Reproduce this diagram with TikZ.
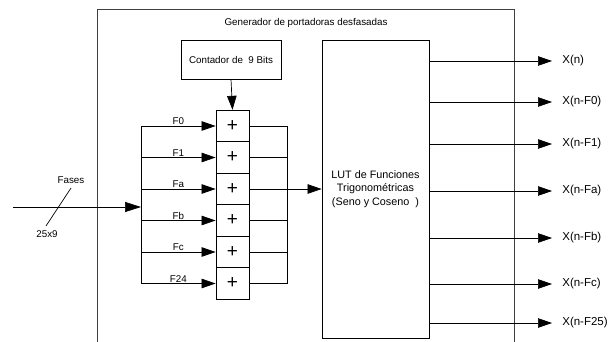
\documentclass[tikz,border=0pt]{standalone}
\usepackage{fontspec}
\setmainfont{Liberation Sans}
\usetikzlibrary{arrows.meta, calc, positioning}

\tikzset{
    txt/.style={font=\fontsize{9.8}{11.5}\selectfont, inner sep=1pt},
    blk/.style={draw, line width=0.8pt, txt, align=center},
    sumbox/.style={draw, line width=0.8pt, minimum width=33pt, minimum height=31.5pt, font=\fontsize{19}{19}\selectfont},
    arr/.style={-{Triangle[length=14pt,width=9.5pt]}},
    outlbl/.style={font=\fontsize{11.5}{13}\selectfont, inner sep=1pt, anchor=west},
}

\begin{document}
\begin{tikzpicture}[x=1pt, y=-1pt, line width=0.7pt]
    \useasboundingbox (0,0) rectangle (611,342);
    % outer block
    \draw[line width=0.8pt, black!75] (97,342) -- (97,9) -- (514,9) -- (514,342);
    \node[txt] (title) at (306,23) {Generador de portadoras desfasadas};

    \node[blk, minimum width=100pt, minimum height=39pt] (cont) at (231,59.5) {Contador de~~9 Bits};

    % adders
    \foreach \i/\lab in {0/F0,1/F1,2/Fa,3/Fb,4/Fc,5/F24} {
        \node[sumbox] (s\i) at (232.5,{126+31.5*\i}) {+};
        \draw[arr] (141,{126+31.5*\i}) -- node[txt, above] {\lab} (s\i.west);
        \draw (s\i.east) -- ++(38,0);
    }
    \draw[arr] (cont.south) -- (s0.north);

    % input bus
    \coordinate (in) at (13,207);
    \coordinate (bus) at (141,207);
    \draw[-{Triangle[length=16pt,width=10pt]}] (in) -- (bus);
    \draw (141,126) -- (141,283.5);
    \draw (46,226) -- (71,188);
    \node[txt] (fases) at (71,180) {Fases};
    \node[txt] (width) at (47,234) {25x9};

    % LUT
    \node[blk, font=\fontsize{10.8}{13.5}\selectfont, minimum width=107pt, minimum height=298pt] (lut) at (375.5,189) {LUT de Funciones\\ Trigonométricas\\ (Seno y Coseno~~)};
    \draw (287,126) -- (287,283.5);
    \draw[arr] (287,189) -- (lut.west);

    % outputs
    \foreach \y/\lab in {61/X(n),102/X(n-F0),144/X(n-F1),191/X(n-Fa),238/X(n-Fb),284/X(n-Fc),323/X(n-F25)} {
        \draw[arr] (lut.east |- 0,\y) -- (552,\y);
        \node[outlbl] at (561,\y) {\lab};
    }
\end{tikzpicture}
\end{document}
